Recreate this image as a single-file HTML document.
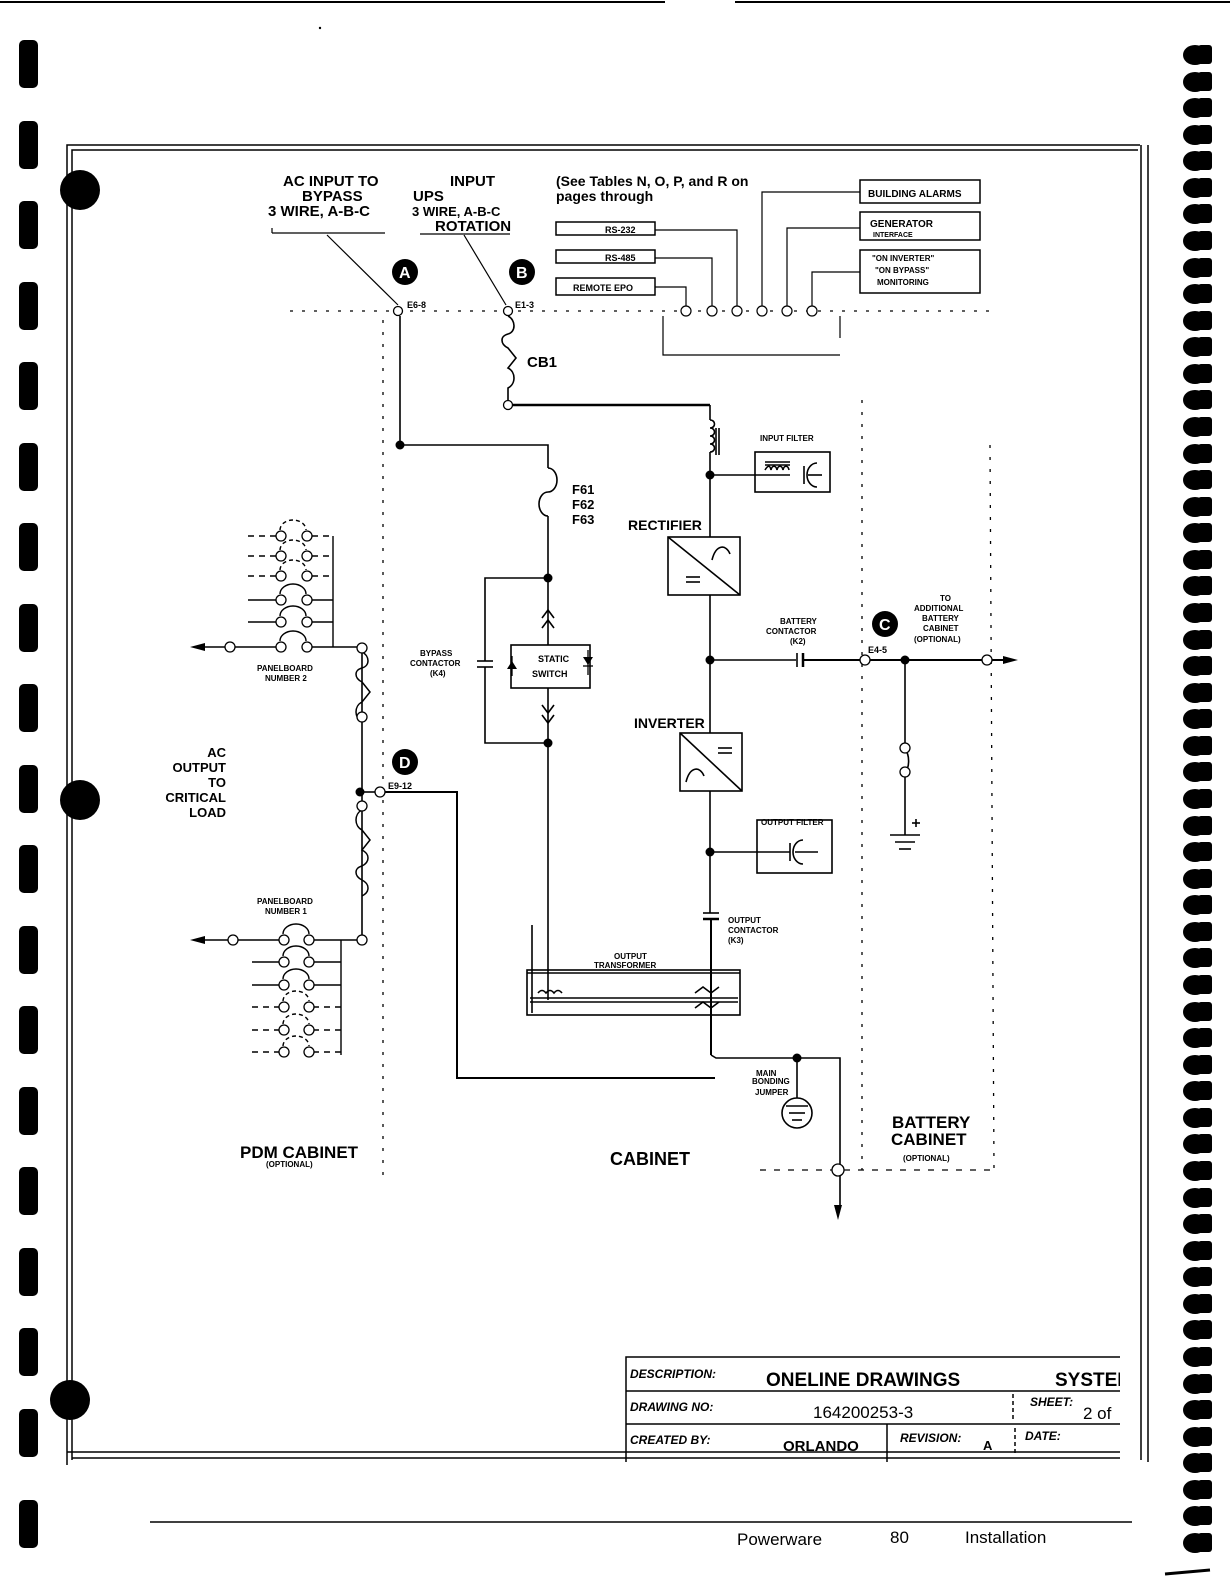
<!DOCTYPE html>
<html><head><meta charset="utf-8"><style>
html,body{margin:0;padding:0;background:#fff}
svg{display:block}
text{font-family:"Liberation Sans",sans-serif;font-weight:bold;fill:#000}
</style></head><body>
<svg width="1230" height="1582" viewBox="0 0 1230 1582" xmlns="http://www.w3.org/2000/svg">
<defs>
<g id="hole"><ellipse cx="1195" cy="10" rx="12" ry="10"/><rect x="1198" y="0" width="14" height="19" rx="3"/></g>
<rect id="bar" x="19" y="0" width="19" height="48" rx="5"/>
</defs>
<line x1="0" y1="2" x2="665" y2="2" stroke="#000" stroke-width="2"/>
<line x1="735" y1="2" x2="1230" y2="2" stroke="#000" stroke-width="2"/>
<g fill="#000">
<use href="#bar" y="40"/><use href="#bar" y="121"/><use href="#bar" y="201"/><use href="#bar" y="282"/><use href="#bar" y="362"/><use href="#bar" y="443"/><use href="#bar" y="523"/><use href="#bar" y="604"/><use href="#bar" y="684"/><use href="#bar" y="765"/><use href="#bar" y="845"/><use href="#bar" y="926"/><use href="#bar" y="1006"/><use href="#bar" y="1087"/><use href="#bar" y="1167"/><use href="#bar" y="1248"/><use href="#bar" y="1328"/><use href="#bar" y="1409"/><use href="#bar" y="1500"/>
</g>
<g fill="#000">
<use href="#hole" y="45"/><use href="#hole" y="72"/><use href="#hole" y="98"/><use href="#hole" y="125"/><use href="#hole" y="151"/><use href="#hole" y="178"/><use href="#hole" y="204"/><use href="#hole" y="231"/><use href="#hole" y="258"/><use href="#hole" y="284"/><use href="#hole" y="311"/><use href="#hole" y="337"/><use href="#hole" y="364"/><use href="#hole" y="390"/><use href="#hole" y="417"/><use href="#hole" y="444"/><use href="#hole" y="470"/><use href="#hole" y="497"/><use href="#hole" y="523"/><use href="#hole" y="550"/><use href="#hole" y="576"/><use href="#hole" y="603"/><use href="#hole" y="630"/><use href="#hole" y="656"/><use href="#hole" y="683"/><use href="#hole" y="709"/><use href="#hole" y="736"/><use href="#hole" y="762"/><use href="#hole" y="789"/><use href="#hole" y="816"/><use href="#hole" y="842"/><use href="#hole" y="869"/><use href="#hole" y="895"/><use href="#hole" y="922"/><use href="#hole" y="948"/><use href="#hole" y="975"/><use href="#hole" y="1002"/><use href="#hole" y="1028"/><use href="#hole" y="1055"/><use href="#hole" y="1081"/><use href="#hole" y="1108"/><use href="#hole" y="1134"/><use href="#hole" y="1161"/><use href="#hole" y="1188"/><use href="#hole" y="1214"/><use href="#hole" y="1241"/><use href="#hole" y="1267"/><use href="#hole" y="1294"/><use href="#hole" y="1320"/><use href="#hole" y="1347"/><use href="#hole" y="1374"/><use href="#hole" y="1400"/><use href="#hole" y="1427"/><use href="#hole" y="1453"/><use href="#hole" y="1480"/><use href="#hole" y="1506"/><use href="#hole" y="1533"/>
</g>
<line x1="1165" y1="1574" x2="1210" y2="1570" stroke="#000" stroke-width="3"/>
<g fill="none" stroke="#000" stroke-width="1.5">
<polyline points="67,1465 67,145 1140,145"/>
<polyline points="72,1460 72,150 1138,150"/>
<line x1="1141" y1="145" x2="1141" y2="1460"/>
<line x1="1148" y1="145" x2="1148" y2="1462"/>
<line x1="67" y1="1452" x2="1120" y2="1452"/>
<line x1="72" y1="1458" x2="1120" y2="1458"/>
</g>
<g fill="#000"><circle cx="80" cy="190" r="20"/><circle cx="80" cy="800" r="20"/><circle cx="70" cy="1400" r="20"/></g>

<g stroke="#000" stroke-width="1.3" fill="none" stroke-dasharray="3,9">
<line x1="290" y1="311" x2="990" y2="311"/>
<line x1="383" y1="320" x2="383" y2="1180"/>
<line x1="862" y1="400" x2="862" y2="1170"/>
<line x1="990" y1="445" x2="994" y2="1170"/>
<line x1="760" y1="1170" x2="995" y2="1170" stroke-dasharray="6,8"/>
</g>

<g font-size="15">
<text x="283" y="186">AC INPUT TO</text>
<text x="302" y="201">BYPASS</text>
<text x="268" y="216">3 WIRE, A-B-C</text>
<text x="450" y="186">INPUT</text>
<text x="413" y="201">UPS</text>
<text x="412" y="216" font-size="13">3 WIRE, A-B-C</text>
<text x="435" y="231">ROTATION</text>
<text x="556" y="186" font-size="14">(See Tables N, O, P, and R on</text>
<text x="556" y="201" font-size="14">pages        through</text>
</g>
<g stroke="#000" stroke-width="1.2" fill="none">
<line x1="272" y1="233" x2="385" y2="233"/>
<line x1="272" y1="228" x2="272" y2="233"/>
<line x1="420" y1="234" x2="510" y2="234"/>
<line x1="327" y1="235" x2="398" y2="305"/>
<line x1="464" y1="235" x2="506" y2="305"/>
</g>
<g fill="#000"><circle cx="405" cy="272" r="13"/><circle cx="522" cy="272" r="13"/><circle cx="885" cy="624" r="13"/><circle cx="405" cy="762" r="13"/></g>
<g font-size="16"><text x="399" y="278" style="fill:#fff">A</text><text x="516" y="278" style="fill:#fff">B</text><text x="879" y="630" style="fill:#fff">C</text><text x="399" y="768" style="fill:#fff">D</text></g>
<g font-size="9"><text x="407" y="308">E6-8</text><text x="515" y="308">E1-3</text><text x="868" y="653">E4-5</text><text x="388" y="789">E9-12</text></g>

<g fill="none" stroke="#000" stroke-width="1.5">
<rect x="556" y="222" width="99" height="13"/>
<rect x="556" y="250" width="99" height="13"/>
<rect x="556" y="278" width="99" height="17"/>
<rect x="860" y="180" width="120" height="23"/>
<rect x="860" y="212" width="120" height="28"/>
<rect x="860" y="250" width="120" height="43"/>
</g>
<g font-size="9"><text x="605" y="233">RS-232</text><text x="605" y="261">RS-485</text><text x="573" y="291">REMOTE EPO</text>
<text x="868" y="197" font-size="10">BUILDING ALARMS</text>
<text x="870" y="227" font-size="10">GENERATOR</text><text x="873" y="237" font-size="7">INTERFACE</text>
<text x="872" y="261" font-size="8">"ON INVERTER"</text><text x="875" y="273" font-size="8">"ON BYPASS"</text><text x="877" y="285" font-size="8">MONITORING</text></g>
<g fill="none" stroke="#000" stroke-width="1.2">
<polyline points="655,287 686,287 686,306"/>
<polyline points="655,258 712,258 712,306"/>
<polyline points="655,230 737,230 737,306"/>
<polyline points="860,192 762,192 762,306"/>
<polyline points="860,228 787,228 787,306"/>
<polyline points="860,272 812,272 812,306"/>
<polyline points="663,316 663,355 840,355"/>
<line x1="840" y1="316" x2="840" y2="338"/>
<circle cx="686" cy="311" r="5" fill="#fff"/><circle cx="712" cy="311" r="5" fill="#fff"/><circle cx="737" cy="311" r="5" fill="#fff"/><circle cx="762" cy="311" r="5" fill="#fff"/><circle cx="787" cy="311" r="5" fill="#fff"/><circle cx="812" cy="311" r="5" fill="#fff"/>
</g>

<g fill="none" stroke="#000" stroke-width="1.6">
<polyline points="400,316 400,445 548,445 548,468"/>
<path d="M548,468 a9,12 0 0 1 0,24 a9,12 0 0 0 0,24"/>
<line x1="548" y1="516" x2="548" y2="645"/>
<path d="M508,316 c8,4 8,16 0,18 c-8,2 -8,10 0,14 l8,10 -8,10 c8,4 8,16 0,20 l0,12"/>
<line x1="513" y1="405" x2="710" y2="405" stroke-width="2.5"/>
<line x1="710" y1="405" x2="710" y2="420"/>
<path d="M710,420 c6,0 6,8 0,8 c6,0 6,8 0,8 c6,0 6,8 0,8 c6,0 6,8 0,8"/>
<line x1="716" y1="428" x2="716" y2="455"/><line x1="719" y1="428" x2="719" y2="455"/>
<line x1="710" y1="452" x2="710" y2="537"/>
<line x1="710" y1="475" x2="790" y2="475"/>
<rect x="755" y="452" width="75" height="40"/>
<path d="M765,470 c3,-5 5,-5 6,0 c1,-5 5,-5 6,0 c1,-5 5,-5 6,0 c1,-5 5,-5 6,0"/>
<line x1="765" y1="465" x2="790" y2="465"/><line x1="765" y1="462" x2="790" y2="462"/>
<line x1="804" y1="466" x2="804" y2="484"/>
<path d="M817,463 a10,12 0 0 0 0,24"/><line x1="808" y1="475" x2="822" y2="475"/>
<rect x="668" y="537" width="72" height="58"/>
<line x1="668" y1="537" x2="740" y2="595"/>
<path d="M712,560 c4,-16 14,-16 18,-6"/>
<line x1="686" y1="577" x2="700" y2="577"/><line x1="686" y1="582" x2="700" y2="582"/>
<line x1="710" y1="595" x2="710" y2="733"/>
<rect x="680" y="733" width="62" height="58"/>
<line x1="680" y1="733" x2="742" y2="791"/>
<line x1="718" y1="748" x2="732" y2="748"/><line x1="718" y1="753" x2="732" y2="753"/>
<path d="M686,782 c4,-16 14,-16 18,-6"/>
<line x1="710" y1="791" x2="710" y2="913"/>
<line x1="710" y1="852" x2="790" y2="852"/>
<rect x="757" y="820" width="75" height="53"/>
<line x1="790" y1="843" x2="790" y2="861"/>
<path d="M803,840 a10,12 0 0 0 0,24"/><line x1="795" y1="852" x2="818" y2="852"/>
<line x1="703" y1="913" x2="719" y2="913"/><line x1="703" y1="919" x2="719" y2="919" stroke-width="2.5"/>
<line x1="711" y1="919" x2="711" y2="1055" stroke-width="2"/>
<rect x="527" y="970" width="213" height="45"/>
<line x1="527" y1="973" x2="740" y2="973"/>
<line x1="530" y1="998" x2="738" y2="998"/><line x1="530" y1="1002" x2="738" y2="1002"/>
<line x1="532" y1="925" x2="532" y2="1013"/>
<path d="M538,993 q4,-5 8,0 q4,-5 8,0 q4,-5 8,0"/>
<path d="M695,993 l8,-6 8,6 8,-6 M695,1008 l8,-6 8,6 8,-6"/>
<line x1="548" y1="743" x2="548" y2="1000"/>
<polyline points="548,578 485,578 485,661"/>
<line x1="477" y1="661" x2="493" y2="661"/><line x1="477" y1="667" x2="493" y2="667"/>
<polyline points="485,667 485,743 548,743"/>
<path d="M542,618 l6,-8 6,8 M542,628 l6,-8 6,8"/>
<rect x="511" y="645" width="79" height="43"/>
<line x1="548" y1="688" x2="548" y2="743"/>
<path d="M542,705 l6,8 6,-8 M542,715 l6,8 6,-8"/>
<line x1="710" y1="660" x2="796" y2="660"/>
<line x1="797" y1="653" x2="797" y2="667"/><line x1="803" y1="653" x2="803" y2="667" stroke-width="2.5"/>
<line x1="803" y1="660" x2="1005" y2="660" stroke-width="2"/>
<line x1="905" y1="660" x2="905" y2="745"/>
<path d="M905,750 a6,12 0 0 1 0,22"/>
<line x1="905" y1="777" x2="905" y2="835"/>
<line x1="890" y1="835" x2="920" y2="835"/><line x1="895" y1="842" x2="915" y2="842"/><line x1="899" y1="849" x2="911" y2="849"/>
<line x1="912" y1="823" x2="920" y2="823"/><line x1="916" y1="819" x2="916" y2="827"/>
<polyline points="711,1055 716,1058 840,1058 840,1205" stroke-width="1.6"/>
<line x1="797" y1="1058" x2="797" y2="1098"/>
<circle cx="797" cy="1113" r="15"/>
<line x1="786" y1="1106" x2="808" y2="1106"/><line x1="789" y1="1113" x2="805" y2="1113"/><line x1="792" y1="1120" x2="802" y2="1120"/>
<line x1="362" y1="792" x2="375" y2="792"/>
<polyline points="385,792 457,792 457,1078 715,1078" stroke-width="2"/>
<line x1="362" y1="652" x2="362" y2="936"/>
</g>
<g fill="none" stroke="#000" stroke-width="1.5">
<path d="M362,652 c8,4 8,14 0,16 c-8,2 -8,10 0,14 l8,10 -8,10 c-8,4 -8,16 0,20"/>
<path d="M362,810 c-8,4 -8,16 0,20 l8,10 -8,10 c8,4 8,12 0,16 c-8,2 -8,10 0,14 c8,4 8,12 0,16"/>
</g>
<g fill="none" stroke="#000" stroke-width="1.4">
<line x1="333" y1="536" x2="333" y2="647"/>
<line x1="248" y1="536" x2="276" y2="536" stroke-dasharray="6,5"/><line x1="312" y1="536" x2="333" y2="536" stroke-dasharray="6,5"/>
<line x1="248" y1="556" x2="276" y2="556" stroke-dasharray="6,5"/><line x1="312" y1="556" x2="333" y2="556" stroke-dasharray="6,5"/>
<line x1="248" y1="576" x2="276" y2="576" stroke-dasharray="6,5"/><line x1="312" y1="576" x2="333" y2="576" stroke-dasharray="6,5"/>
<line x1="248" y1="600" x2="276" y2="600"/><line x1="312" y1="600" x2="333" y2="600"/>
<line x1="248" y1="622" x2="276" y2="622"/><line x1="312" y1="622" x2="333" y2="622"/>
<line x1="200" y1="647" x2="226" y2="647"/><line x1="235" y1="647" x2="276" y2="647"/><line x1="312" y1="647" x2="357" y2="647"/>
<g stroke-dasharray="4,3"><path d="M280,530 a13,10 0 0 1 26,0"/><path d="M280,550 a13,10 0 0 1 26,0"/><path d="M280,570 a13,10 0 0 1 26,0"/></g>
<path d="M280,594 a13,10 0 0 1 26,0"/><path d="M280,616 a13,10 0 0 1 26,0"/><path d="M280,641 a13,10 0 0 1 26,0"/>
<line x1="341" y1="940" x2="341" y2="1055"/>
<line x1="200" y1="940" x2="228" y2="940"/><line x1="238" y1="940" x2="279" y2="940"/><line x1="313" y1="940" x2="357" y2="940"/>
<line x1="252" y1="962" x2="279" y2="962"/><line x1="313" y1="962" x2="341" y2="962"/>
<line x1="252" y1="985" x2="279" y2="985"/><line x1="313" y1="985" x2="341" y2="985"/>
<line x1="252" y1="1007" x2="279" y2="1007" stroke-dasharray="6,5"/><line x1="313" y1="1007" x2="341" y2="1007" stroke-dasharray="6,5"/>
<line x1="252" y1="1030" x2="279" y2="1030" stroke-dasharray="6,5"/><line x1="313" y1="1030" x2="341" y2="1030" stroke-dasharray="6,5"/>
<line x1="252" y1="1052" x2="279" y2="1052" stroke-dasharray="6,5"/><line x1="313" y1="1052" x2="341" y2="1052" stroke-dasharray="6,5"/>
<path d="M283,934 a13,10 0 0 1 26,0"/><path d="M283,956 a13,10 0 0 1 26,0"/><path d="M283,979 a13,10 0 0 1 26,0"/>
<g stroke-dasharray="4,3"><path d="M283,1001 a13,10 0 0 1 26,0"/><path d="M283,1024 a13,10 0 0 1 26,0"/><path d="M283,1046 a13,10 0 0 1 26,0"/></g>
</g>
<g fill="#fff" stroke="#000" stroke-width="1.3">
<circle cx="398" cy="311" r="4.5"/><circle cx="508" cy="311" r="4.5"/><circle cx="508" cy="405" r="4.5"/>
<circle cx="281" cy="536" r="5"/><circle cx="307" cy="536" r="5"/><circle cx="281" cy="556" r="5"/><circle cx="307" cy="556" r="5"/><circle cx="281" cy="576" r="5"/><circle cx="307" cy="576" r="5"/><circle cx="281" cy="600" r="5"/><circle cx="307" cy="600" r="5"/><circle cx="281" cy="622" r="5"/><circle cx="307" cy="622" r="5"/><circle cx="281" cy="647" r="5"/><circle cx="307" cy="647" r="5"/><circle cx="230" cy="647" r="5"/>
<circle cx="362" cy="648" r="5"/><circle cx="362" cy="717" r="5"/><circle cx="362" cy="806" r="5"/><circle cx="362" cy="940" r="5"/><circle cx="380" cy="792" r="5"/>
<circle cx="284" cy="940" r="5"/><circle cx="309" cy="940" r="5"/><circle cx="233" cy="940" r="5"/><circle cx="284" cy="962" r="5"/><circle cx="309" cy="962" r="5"/><circle cx="284" cy="985" r="5"/><circle cx="309" cy="985" r="5"/><circle cx="284" cy="1007" r="5"/><circle cx="309" cy="1007" r="5"/><circle cx="284" cy="1030" r="5"/><circle cx="309" cy="1030" r="5"/><circle cx="284" cy="1052" r="5"/><circle cx="309" cy="1052" r="5"/>
<circle cx="865" cy="660" r="5"/><circle cx="987" cy="660" r="5"/><circle cx="905" cy="748" r="5"/><circle cx="905" cy="772" r="5"/><circle cx="838" cy="1170" r="6"/>
</g>
<g fill="#000">
<circle cx="400" cy="445" r="4.5"/><circle cx="548" cy="578" r="4.5"/><circle cx="548" cy="743" r="4.5"/><circle cx="710" cy="475" r="4.5"/><circle cx="710" cy="660" r="4.5"/><circle cx="710" cy="852" r="4.5"/><circle cx="905" cy="660" r="4.5"/><circle cx="797" cy="1058" r="4.5"/><circle cx="360" cy="792" r="4.5"/>
<polygon points="190,647 205,643 205,651"/><polygon points="190,940 205,936 205,944"/><polygon points="1018,660 1003,656 1003,664"/><polygon points="838,1220 834,1205 842,1205"/>
<polygon points="507,669 517,669 512,661"/><polygon points="583,657 593,657 588,665"/>
</g>
<g stroke="#000" stroke-width="1.3"><line x1="512" y1="656" x2="512" y2="676"/><line x1="583" y1="666" x2="593" y2="666"/><line x1="588" y1="650" x2="588" y2="675"/></g>

<text x="527" y="367" font-size="15">CB1</text>
<text x="572" y="494" font-size="13">F61</text><text x="572" y="509" font-size="13">F62</text><text x="572" y="524" font-size="13">F63</text>
<text x="628" y="530" font-size="14">RECTIFIER</text>
<text x="634" y="728" font-size="14">INVERTER</text>
<text x="610" y="1165" font-size="18">CABINET</text>
<text x="892" y="1128" font-size="17">BATTERY</text>
<text x="891" y="1145" font-size="17">CABINET</text>
<text x="240" y="1158" font-size="17">PDM CABINET</text>
<g font-size="13" text-anchor="end">
<text x="226" y="757">AC</text>
<text x="226" y="772">OUTPUT</text>
<text x="226" y="787">TO</text>
<text x="226" y="802">CRITICAL</text>
<text x="226" y="817">LOAD</text>
</g>
<g font-size="8">
<text x="760" y="441">INPUT FILTER</text>
<text x="761" y="825">OUTPUT FILTER</text>
<text x="538" y="662" font-size="9">STATIC</text><text x="532" y="677" font-size="9">SWITCH</text>
<text x="420" y="656">BYPASS</text><text x="410" y="666">CONTACTOR</text><text x="430" y="676">(K4)</text>
<text x="780" y="624">BATTERY</text><text x="766" y="634">CONTACTOR</text><text x="790" y="644">(K2)</text>
<text x="940" y="601">TO</text><text x="914" y="611">ADDITIONAL</text><text x="922" y="621">BATTERY</text><text x="923" y="631">CABINET</text><text x="914" y="642">(OPTIONAL)</text>
<text x="728" y="923">OUTPUT</text><text x="728" y="933">CONTACTOR</text><text x="728" y="943">(K3)</text>
<text x="614" y="959">OUTPUT</text><text x="594" y="968">TRANSFORMER</text>
<text x="257" y="671">PANELBOARD</text><text x="265" y="681">NUMBER 2</text>
<text x="257" y="904">PANELBOARD</text><text x="265" y="914">NUMBER 1</text>
<text x="756" y="1076">MAIN</text><text x="752" y="1084">BONDING</text><text x="755" y="1095">JUMPER</text>
<text x="266" y="1167">(OPTIONAL)</text>
<text x="903" y="1161">(OPTIONAL)</text>
</g>

<g fill="none" stroke="#000" stroke-width="1.5">
<polyline points="1120,1357 626,1357 626,1462"/>
<line x1="626" y1="1391" x2="1120" y2="1391"/>
<line x1="626" y1="1424" x2="1120" y2="1424"/>
<line x1="887" y1="1424" x2="887" y2="1462"/>
<line x1="1013" y1="1394" x2="1013" y2="1420" stroke-dasharray="4,3"/>
<line x1="1015" y1="1428" x2="1015" y2="1455" stroke-dasharray="4,3"/>
</g>
<g font-size="12" font-style="italic">
<text x="630" y="1378">DESCRIPTION:</text>
<text x="630" y="1411">DRAWING NO:</text>
<text x="630" y="1444">CREATED BY:</text>
<text x="900" y="1442">REVISION:</text>
<text x="1025" y="1440">DATE:</text>
<text x="1030" y="1406">SHEET:</text>
</g>
<text x="766" y="1386" font-size="19">ONELINE DRAWINGS</text>
<text x="1055" y="1386" font-size="19">SYSTEM</text>
<rect x="1120" y="1360" width="20" height="30" fill="#fff"/>
<text x="813" y="1418" font-size="17" style="font-weight:normal">164200253-3</text>
<text x="1083" y="1419" font-size="17" style="font-weight:normal">2 of</text>
<rect x="1120" y="1395" width="20" height="28" fill="#fff"/>
<text x="783" y="1451" font-size="15">ORLANDO</text>
<text x="983" y="1450" font-size="13">A</text>
<line x1="150" y1="1522" x2="1132" y2="1522" stroke="#000" stroke-width="1.5"/>
<text x="737" y="1545" font-size="17" style="font-weight:normal">Powerware</text>
<text x="890" y="1543" font-size="17" style="font-weight:normal">80</text>
<text x="965" y="1543" font-size="17" style="font-weight:normal">Installation</text>
<circle cx="320" cy="28" r="1.2" fill="#000"/>
</svg>
</body></html>
